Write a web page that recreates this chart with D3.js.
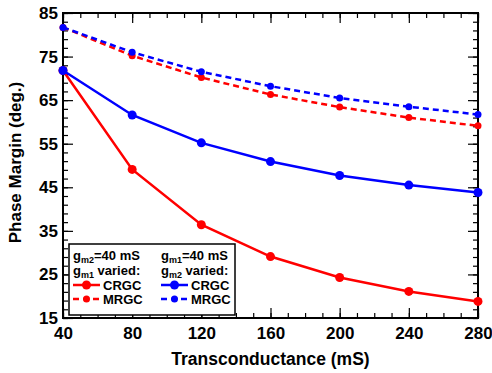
<!DOCTYPE html>
<html>
<head>
<meta charset="utf-8">
<script src="https://cdn.jsdelivr.net/npm/d3@7"></script>
<style>
  body { margin: 0; background: #fff; }
  svg { display: block; font-family: "Liberation Sans", Arial, sans-serif; font-weight: bold; }
</style>
</head>
<body>
<svg id="chart" width="492" height="373"></svg>
<script>
// data
var transconductance = [40, 80, 120, 160, 200, 240, 280];
var crgc_gm1 = [71.8, 49.1, 36.4, 29.1, 24.3, 21.1, 18.8];
var mrgc_gm1 = [81.7, 75.2, 70.2, 66.3, 63.4, 61.0, 59.1];
var crgc_gm2 = [71.8, 61.6, 55.2, 50.9, 47.7, 45.5, 43.8];
var mrgc_gm2 = [81.7, 76.0, 71.5, 68.2, 65.5, 63.5, 61.7];
var x_ticks = [40, 80, 120, 160, 200, 240, 280];
var y_ticks = [15, 25, 35, 45, 55, 65, 75, 85];

var series = [
  { values: mrgc_gm1, color: "#ff0000", dash: "6,4", r: 3.5 },
  { values: mrgc_gm2, color: "#0000ff", dash: "6,4", r: 3.5 },
  { values: crgc_gm1, color: "#ff0000", dash: null, r: 4.5 },
  { values: crgc_gm2, color: "#0000ff", dash: null, r: 4.5 }
];

var margin = { top: 13, right: 14, bottom: 55, left: 63 };
var width = 492 - margin.left - margin.right;
var height = 373 - margin.top - margin.bottom;

var svg = d3.select("#chart")
  .append("g")
  .attr("transform", "translate(" + margin.left + "," + margin.top + ")");

var x = d3.scaleLinear().domain([40, 280]).range([0, width]);
var y = d3.scaleLinear().domain([15, 85]).range([height, 0]);

// ==================================================
// minor + major ticks, pointing inward on all four sides
var x_minor = d3.range(40, 281, 10);
var y_minor = d3.range(15, 86, 2);

function tick_axis(axis, scale, vals, size, transform) {
  var g = svg.append("g").attr("transform", transform || null)
    .call(axis(scale).tickValues(vals).tickSize(size).tickFormat(""));
  g.select(".domain").remove();
  g.selectAll("line").attr("stroke", "#000").attr("stroke-width", 1.2);
}
tick_axis(d3.axisBottom, x, x_minor, -5, "translate(0," + height + ")");
tick_axis(d3.axisBottom, x, x_ticks, -10, "translate(0," + height + ")");
tick_axis(d3.axisTop, x, x_minor, -5, null);
tick_axis(d3.axisTop, x, x_ticks, -10, null);
tick_axis(d3.axisLeft, y, y_minor, -5, null);
tick_axis(d3.axisLeft, y, y_ticks, -10, null);
tick_axis(d3.axisRight, y, y_minor, -5, "translate(" + width + ",0)");
tick_axis(d3.axisRight, y, y_ticks, -10, "translate(" + width + ",0)");

// tick labels
var x_axis = svg.append("g")
  .attr("transform", "translate(0," + height + ")")
  .call(d3.axisBottom(x).tickValues(x_ticks).tickSize(0).tickPadding(9));
x_axis.select(".domain").remove();
x_axis.selectAll("text").style("font-size", "17px").style("font-family", "Liberation Sans, Arial").style("font-weight", "bold").attr("fill", "#000");

var y_axis = svg.append("g")
  .call(d3.axisLeft(y).tickValues(y_ticks).tickSize(0).tickPadding(5));
y_axis.select(".domain").remove();
y_axis.selectAll("text").style("font-size", "17px").style("font-family", "Liberation Sans, Arial").style("font-weight", "bold").attr("fill", "#000");

// frame
svg.append("rect")
  .attr("width", width).attr("height", height)
  .attr("fill", "none").attr("stroke", "#000").attr("stroke-width", 2);

// ==================================================
// axis titles
svg.append("text")
  .attr("x", width / 2).attr("y", height + 47)
  .attr("text-anchor", "middle")
  .style("font-size", "17.5px")
  .text("Transconductance (mS)");

svg.append("text")
  .attr("transform", "rotate(-90)")
  .attr("x", -(height / 2) + 3).attr("y", -42)
  .attr("text-anchor", "middle")
  .style("font-size", "17px")
  .text("Phase Margin (deg.)");

// ==================================================
// series
var line = d3.line()
  .x(function(d, i) { return x(transconductance[i]); })
  .y(function(d) { return y(d); });

series.forEach(function(s) {
  svg.append("path")
    .datum(s.values)
    .attr("d", line)
    .attr("fill", "none")
    .attr("stroke", s.color)
    .attr("stroke-width", 2.5)
    .attr("stroke-dasharray", s.dash);

  svg.selectAll(null)
    .data(s.values)
    .enter()
    .append("circle")
    .attr("cx", function(d, i) { return x(transconductance[i]); })
    .attr("cy", function(d) { return y(d); })
    .attr("r", s.r)
    .attr("fill", s.color);
});

// ==================================================
// legend
var legend = svg.append("g").attr("transform", "translate(6,231)");
legend.append("rect")
  .attr("width", 166).attr("height", 71)
  .attr("fill", "#fff").attr("stroke", "#000").attr("stroke-width", 1.5);

function sub_label(g, px, py, a, b, c) {
  var t = g.append("text").attr("x", px).attr("y", py).style("font-size", "13px");
  t.append("tspan").text(a);
  t.append("tspan").attr("dy", 3).style("font-size", "9px").text(b);
  t.append("tspan").attr("dy", -3).text(c);
}
sub_label(legend, 4, 16, "g", "m2", "=40 mS");
sub_label(legend, 4, 31, "g", "m1", " varied:");
sub_label(legend, 92, 16, "g", "m1", "=40 mS");
sub_label(legend, 92, 31, "g", "m2", " varied:");

var legend_rows = [
  { px: 4, py: 46, color: "#ff0000", dash: null, r: 4.5, label: "CRGC" },
  { px: 4, py: 60, color: "#ff0000", dash: "6,4", r: 3.5, label: "MRGC" },
  { px: 92, py: 46, color: "#0000ff", dash: null, r: 4.5, label: "CRGC" },
  { px: 92, py: 60, color: "#0000ff", dash: "6,4", r: 3.5, label: "MRGC" }
];
legend_rows.forEach(function(d) {
  legend.append("line")
    .attr("x1", d.px).attr("x2", d.px + 27)
    .attr("y1", d.py - 5).attr("y2", d.py - 5)
    .attr("stroke", d.color).attr("stroke-width", 2.5)
    .attr("stroke-dasharray", d.dash);
  legend.append("circle")
    .attr("cx", d.px + 13.5).attr("cy", d.py - 5)
    .attr("r", d.r).attr("fill", d.color);
  legend.append("text")
    .attr("x", d.px + 30).attr("y", d.py)
    .style("font-size", "13px")
    .text(d.label);
});
</script>
</body>
</html>
